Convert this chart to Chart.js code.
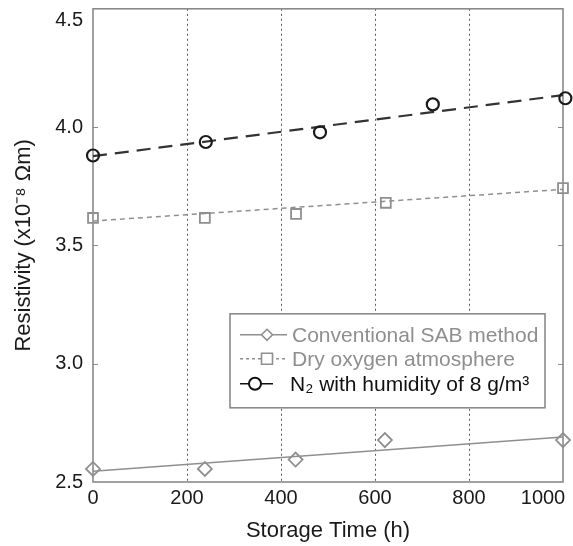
<!DOCTYPE html>
<html>
<head>
<meta charset="utf-8">
<script src="https://cdn.jsdelivr.net/npm/chart.js@4.4.0/dist/chart.umd.min.js"></script>
<style>
html,body{margin:0;padding:0;background:#fff;}
canvas{display:block;}
</style>
</head>
<body>
<canvas id="c" width="573" height="546"></canvas>
<script>
// ---- data ----
const seriesNames = ['Conventional SAB method', 'Dry oxygen atmosphere', 'N\u2082 with humidity of 8 g/m\u00B3'];
const timeSAB = [0, 238, 431, 621, 1000];
const resSAB  = [2.555, 2.555, 2.595, 2.677, 2.677];
const timeDry = [0, 238, 432, 623, 1000];
const resDry  = [3.616, 3.616, 3.633, 3.680, 3.742];
const timeN2  = [0, 240, 483, 723, 1005];
const resN2   = [3.880, 3.937, 3.978, 4.096, 4.122];
const fitTime = [0, 1000];
const fitSAB  = [2.545, 2.690];
const fitDry  = [3.603, 3.737];
const fitN2   = [3.877, 4.135];
const xTicks  = [0, 200, 400, 600, 800, 1000];
const yTicks  = [2.5, 3.0, 3.5, 4.0, 4.5];
const xTitle  = 'Storage Time (h)';
const yTitle  = 'Resistivity (x10\u207B\u2078 \u03A9m)';

const FONT = "'Liberation Sans', Arial, Helvetica, sans-serif";
const GREY = '#8f8f8f';
const DARK = '#1a1a1a';

const pts = (xs, ys) => xs.map((x, i) => ({x: x, y: ys[i]}));

const styles = [
  {color: GREY, point: 'rectRot', radius: 7, dash: [], lineWidth: 1.5, bw: 1.8},
  {color: GREY, point: 'rect', radius: 7, dash: [5, 4], lineWidth: 1.5, bw: 1.8},
  {color: '#1a1a1a', point: 'circle', radius: 6, dash: [14, 8], lineWidth: 2.2, lineColor: '#333333', bw: 2.2}
];

const markerSets = [pts(timeSAB, resSAB), pts(timeDry, resDry), pts(timeN2, resN2)];
const fitSets = [pts(fitTime, fitSAB), pts(fitTime, fitDry), pts(fitTime, fitN2)];

const datasets = [];
markerSets.forEach((d, i) => {
  datasets.push({
    label: seriesNames[i], data: d, showLine: false, clip: false,
    pointStyle: styles[i].point, pointRadius: styles[i].radius,
    pointBorderColor: styles[i].color, pointBackgroundColor: 'rgba(255,255,255,0)',
    pointBorderWidth: styles[i].bw, pointHoverRadius: styles[i].radius
  });
});
fitSets.forEach((d, i) => {
  datasets.push({
    label: seriesNames[i] + ' fit', data: d, showLine: true, pointRadius: 0,
    borderColor: styles[i].lineColor || styles[i].color, borderWidth: styles[i].lineWidth,
    borderDash: styles[i].dash, fill: false, tension: 0
  });
});

const bgPlugin = {
  id: 'bg',
  beforeDraw(chart) {
    const ctx = chart.ctx;
    ctx.save(); ctx.fillStyle = '#fff'; ctx.fillRect(0, 0, chart.width, chart.height); ctx.restore();
  }
};

const framePlugin = {
  id: 'frame',
  beforeDatasetsDraw(chart) {
    const {ctx, chartArea: a, scales} = chart;
    ctx.save();
    ctx.setLineDash([]);
    ctx.strokeStyle = '#8a8a8a';
    ctx.lineWidth = 1;
    yTicks.forEach(v => {
      if (v === yTicks[0] || v === yTicks[yTicks.length - 1]) return;
      const y = Math.round(scales.y.getPixelForValue(v)) + 0.5;
      ctx.beginPath(); ctx.moveTo(a.left, y); ctx.lineTo(a.left + 5, y); ctx.stroke();
      ctx.beginPath(); ctx.moveTo(a.right, y); ctx.lineTo(a.right - 5, y); ctx.stroke();
    });
    ctx.lineWidth = 1.6;
    ctx.strokeStyle = '#8a8a8a';
    ctx.strokeRect(a.left, a.top, a.right - a.left, a.bottom - a.top);
    ctx.restore();
  }
};

function drawMarker(ctx, style, x, y, r, color, lw) {
  ctx.save();
  ctx.setLineDash([]);
  ctx.strokeStyle = color; ctx.lineWidth = lw; ctx.fillStyle = '#fff';
  ctx.beginPath();
  if (style === 'circle') {
    ctx.arc(x, y, r, 0, Math.PI * 2);
  } else if (style === 'rect') {
    ctx.rect(x - r, y - r, 2 * r, 2 * r);
  } else {
    ctx.moveTo(x, y - r); ctx.lineTo(x + r, y); ctx.lineTo(x, y + r); ctx.lineTo(x - r, y); ctx.closePath();
  }
  ctx.fill(); ctx.stroke();
  ctx.restore();
}

const legendPlugin = {
  id: 'customLegend',
  afterDraw(chart) {
    const {ctx, chartArea: a} = chart;
    const bx = a.left + 137, by = a.top + 305, bw = 315, bh = 94;
    ctx.save();
    ctx.fillStyle = '#fff';
    ctx.fillRect(bx, by, bw, bh);
    ctx.strokeStyle = '#8a8a8a'; ctx.lineWidth = 1.6; ctx.setLineDash([]);
    ctx.strokeRect(bx, by, bw, bh);
    const rows = [by + 21, by + 45, by + 70];
    const textColors = [GREY, GREY, '#111'];
    rows.forEach((ry, i) => {
      const st = styles[i];
      const x0 = bx + 10;
      const x1 = i === 2 ? bx + 43 : bx + 57;
      const mx = i === 2 ? bx + 25 : bx + 37;
      ctx.save();
      ctx.strokeStyle = i === 2 ? '#111' : st.color;
      ctx.lineWidth = 1.6;
      ctx.setLineDash(i === 1 ? [3, 3] : []);
      ctx.beginPath(); ctx.moveTo(x0, ry); ctx.lineTo(x1, ry); ctx.stroke();
      ctx.restore();
      drawMarker(ctx, st.point, mx, ry, i === 2 ? 6 : 5.5, i === 2 ? '#111' : st.color, i === 2 ? 2 : 1.6);
      ctx.fillStyle = textColors[i];
      ctx.font = '21px ' + FONT;
      ctx.textBaseline = 'middle';
      ctx.textAlign = 'left';
      ctx.fillText(seriesNames[i], i === 2 ? bx + 60 : bx + 62, ry + 1);
    });
    ctx.restore();
  }
};

new Chart(document.getElementById('c'), {
  type: 'scatter',
  data: {datasets: datasets},
  options: {
    responsive: false,
    animation: false,
    events: [],
    layout: {padding: {top: 7, right: 10, bottom: 0, left: 0}},
    plugins: {legend: {display: false}, tooltip: {enabled: false}},
    scales: {
      x: {
        type: 'linear', min: 0, max: 1000,
        afterBuildTicks: s => { s.ticks = xTicks.map(v => ({value: v})); },
        afterFit: s => { s.height = 64; s.paddingLeft = 0; s.paddingRight = 0; },
        ticks: {
          color: DARK, font: {family: FONT, size: 20}, padding: 4, maxRotation: 0, autoSkip: false,
          callback: v => v === 1000 ? '1000\u2002\u2002\u2002\u2002' : String(v)
        },
        grid: {
          color: c => (c.tick && (c.tick.value === 0 || c.tick.value === 1000)) ? 'rgba(0,0,0,0)' : '#5a5a5a',
          lineWidth: 1, drawTicks: false
        },
        border: {display: false, dash: [2, 3]},
        title: {display: true, text: xTitle, color: DARK, font: {family: FONT, size: 22}, padding: {top: 0, bottom: 2}}
      },
      y: {
        type: 'linear', min: 2.5, max: 4.5,
        afterBuildTicks: s => { s.ticks = yTicks.map(v => ({value: v})); },
        afterFit: s => { s.width = 93; s.paddingTop = 0; s.paddingBottom = 0; },
        ticks: {
          color: DARK, font: {family: FONT, size: 20}, padding: 10,
          callback: v => v === 4.5 ? ['', v.toFixed(1)] : v.toFixed(1)
        },
        grid: {display: false, drawTicks: false},
        border: {display: false},
        title: {display: true, text: yTitle, color: DARK, font: {family: FONT, size: 22}, padding: {top: 11, bottom: 0}}
      }
    }
  },
  plugins: [bgPlugin, framePlugin, legendPlugin]
});
</script>
</body>
</html>
